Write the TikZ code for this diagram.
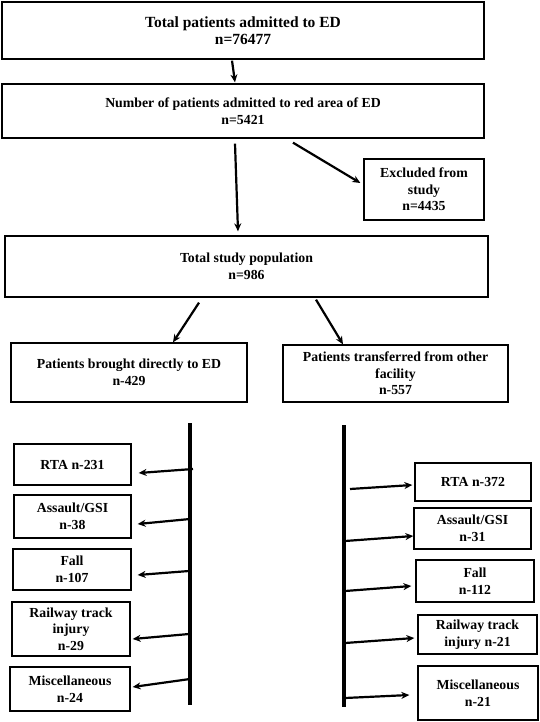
\documentclass[tikz,border=0pt]{standalone}
\usepackage{fontspec}
\setmainfont{Liberation Serif}
\usetikzlibrary{arrows.meta,positioning}
\tikzset{
  fcbox/.style={draw=black, line width=1.3pt, align=center, inner sep=2pt,
    font=\fontsize{13.8}{16.5}\selectfont\bfseries},
  fcarrow/.style={-{Stealth[length=8pt,width=7pt]}, line width=2.2pt},
  fcbar/.style={line width=3.2pt}
}

\begin{document}
\begin{tikzpicture}[x=1pt,y=-1pt]
  \useasboundingbox (0,0) rectangle (539,722);
  % main flow
  \node[fcbox, minimum width=482pt, minimum height=57pt, font=\fontsize{15.5}{17}\selectfont\bfseries] (tot) at (243,30.5) {Total patients admitted to ED\\n=76477};
  \node[fcbox, minimum width=482pt, minimum height=54pt] (red) at (243,111) {Number of patients admitted to red area of ED\\n=5421};
  \node[fcbox, minimum width=120pt, minimum height=61pt] (exc) at (424,189.5) {Excluded from\\study\\n=4435};
  \node[fcbox, minimum width=483pt, minimum height=61pt] (pop) at (246.5,266.5) {Total study population\\n=986};
  \node[fcbox, minimum width=236pt, minimum height=59pt] (dir) at (129,372.5) {Patients brought directly to ED\\n-429};
  \node[fcbox, minimum width=225pt, minimum height=57pt] (trf) at (395.5,373.5) {Patients transferred from other\\facility\\n-557};
  \draw[fcarrow] ([xshift=-11pt,yshift=-1pt]tot.south) -- ([xshift=-8pt,yshift=1pt]red.north);
  \draw[fcarrow] ([xshift=-8pt,yshift=-5pt]red.south) -- ([xshift=-8.5pt,yshift=4pt]pop.north);
  \draw[fcarrow] ([xshift=50pt,yshift=-4pt]red.south) -- ([xshift=-3pt,yshift=6.5pt]exc.west);
  \draw[fcarrow] ([xshift=-47.5pt,yshift=-5pt]pop.south) -- ([xshift=44pt]dir.north);
  \draw[fcarrow] ([xshift=69.5pt,yshift=-2pt]pop.south) -- ([xshift=-52.5pt]trf.north);
  % left branch
  \coordinate (lbtop) at (190,423);
  \coordinate (lbbot) at (190,705);
  \draw[fcbar] (lbtop) -- (lbbot);
  \node[fcbox, minimum width=117pt, minimum height=41pt] (l1) at (72.5,464.5) {RTA n-231};
  \node[fcbox, minimum width=117pt, minimum height=43pt] (l2) at (72.5,516.5) {Assault/GSI\\n-38};
  \node[fcbox, minimum width=118pt, minimum height=41pt] (l3) at (72,569.5) {Fall\\n-107};
  \node[fcbox, minimum width=118pt, minimum height=54pt] (l4) at (71,629) {Railway track\\injury\\n-29};
  \node[fcbox, minimum width=120pt, minimum height=44pt] (l5) at (70,689) {Miscellaneous\\n-24};
  \coordinate (lb1) at (193,469);
  \coordinate (lb2) at (190,519);
  \coordinate (lb3) at (189,571);
  \coordinate (lb4) at (189,634);
  \coordinate (lb5) at (190,679);
  \draw[fcarrow] (lb1) -- ([xshift=7pt,yshift=-8.5pt]l1.east);
  \draw[fcarrow] (lb2) -- ([xshift=6pt,yshift=-7.5pt]l2.east);
  \draw[fcarrow] (lb3) -- ([xshift=6pt,yshift=-5.5pt]l3.east);
  \draw[fcarrow] (lb4) -- ([xshift=2pt,yshift=-10pt]l4.east);
  \draw[fcarrow] (lb5) -- ([xshift=2pt,yshift=2pt]l5.east);
  % right branch
  \coordinate (rbtop) at (344,425);
  \coordinate (rbbot) at (344,707);
  \draw[fcbar] (rbtop) -- (rbbot);
  \node[fcbox, minimum width=116pt, minimum height=38pt] (r1) at (473,482) {RTA n-372};
  \node[fcbox, minimum width=117pt, minimum height=41pt] (r2) at (472.5,528.5) {Assault/GSI\\n-31};
  \node[fcbox, minimum width=118pt, minimum height=42pt] (r3) at (475,581) {Fall\\n-112};
  \node[fcbox, minimum width=119pt, minimum height=39pt] (r4) at (477.5,634.5) {Railway track\\injury n-21};
  \node[fcbox, minimum width=120pt, minimum height=54pt] (r5) at (478,693) {Miscellaneous\\n-21};
  \coordinate (rb1) at (350,489);
  \coordinate (rb2) at (345,541);
  \coordinate (rb3) at (345,591);
  \coordinate (rb4) at (345,643);
  \coordinate (rb5) at (345,698);
  \draw[fcarrow] (rb1) -- ([xshift=-2pt,yshift=-3pt]r1.west);
  \draw[fcarrow] (rb2) -- ([yshift=-7.5pt]r2.west);
  \draw[fcarrow] (rb3) -- ([xshift=-4pt,yshift=-5pt]r3.west);
  \draw[fcarrow] (rb4) -- ([xshift=-3pt,yshift=-3.5pt]r4.west);
  \draw[fcarrow] (rb5) -- ([xshift=-8pt,yshift=-2pt]r5.west);
\end{tikzpicture}
\end{document}
